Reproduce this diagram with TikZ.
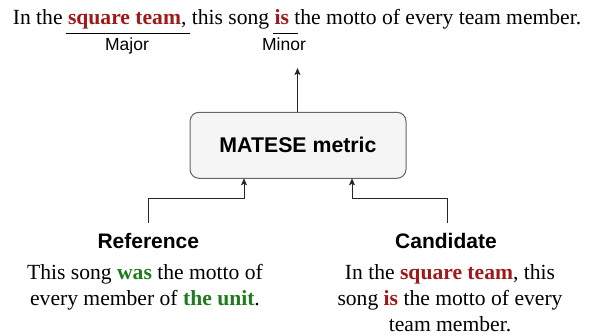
\documentclass[tikz,border=0pt]{standalone}
\usepackage{fontspec}
\setmainfont{Liberation Serif}
\setsansfont{Liberation Sans}
\usetikzlibrary{arrows.meta}
\definecolor{errred}{HTML}{A01818}
\definecolor{okgreen}{HTML}{1E7B1E}
\definecolor{boxfill}{HTML}{F5F5F5}
\definecolor{boxline}{HTML}{666666}
\begin{document}
\begin{tikzpicture}[x=1pt,y=-1pt,
  serif/.style={font=\fontsize{21.6}{26}\selectfont\rmfamily, inner sep=0pt, align=center},
  lab/.style={font=\fontsize{17.5}{20}\selectfont\sffamily, inner sep=0pt, anchor=base},
  head/.style={font=\fontsize{21}{24}\selectfont\sffamily\bfseries, inner sep=0pt, anchor=base},
  metric/.style={draw=boxline, fill=boxfill, rounded corners=9pt, minimum width=216pt, minimum height=66pt, font=\fontsize{21.3}{24}\selectfont\sffamily\bfseries, line width=1pt},
  conn/.style={line width=1pt, draw=black!85},
  arr/.style={conn, -{Stealth[length=7pt,width=6pt,inset=1.5pt]}},
  uline/.style={line width=0.9pt}
]
\useasboundingbox (0,0) rectangle (592,336);
\newcommand{\er}[1]{\textcolor{errred}{\textbf{#1}}}
\newcommand{\ok}[1]{\textcolor{okgreen}{\textbf{#1}}}
% top sentence
\node[serif, anchor=base] (top) at (297,25) {In the \er{square team}, this song \er{is} the motto of every team member.};
\coordinate (majA) at (66,33);
\coordinate (majB) at (190,33);
\coordinate (minA) at (272.5,33);
\coordinate (minB) at (297.5,33);
\draw[uline] (majA) -- (majB);
\draw[uline] (minA) -- (minB);
\node[lab] (major) at (127,50.7) {Major};
\node[lab] (minor) at (284,50.7) {Minor};
% metric box
\node[metric] (box) at (298,145.3) {MATESE metric};
\coordinate (out) at (297.5,68);
\draw[arr] (box.north -| out) -- (out);
% inputs
\node[head] (ref) at (148.3,248.5) {Reference};
\node[head] (cand) at (446,248.5) {Candidate};
\node[serif, anchor=north] (reftxt) at (145,264.5) {This song \ok{was} the motto of\\every member of \ok{the unit}.};
\node[serif, anchor=north] (candtxt) at (450,264.5) {In the \er{square team}, this\\song \er{is} the motto of every\\team member.};
\coordinate (refup) at (148,223);
\coordinate (candup) at (447,223);
\coordinate (refin) at (244,178.3);
\coordinate (candin) at (352,178.3);
\draw[arr] (refup) |- (refin |- 0,198.3) -- (refin);
\draw[arr] (candup) |- (candin |- 0,198.3) -- (candin);
\end{tikzpicture}
\end{document}
